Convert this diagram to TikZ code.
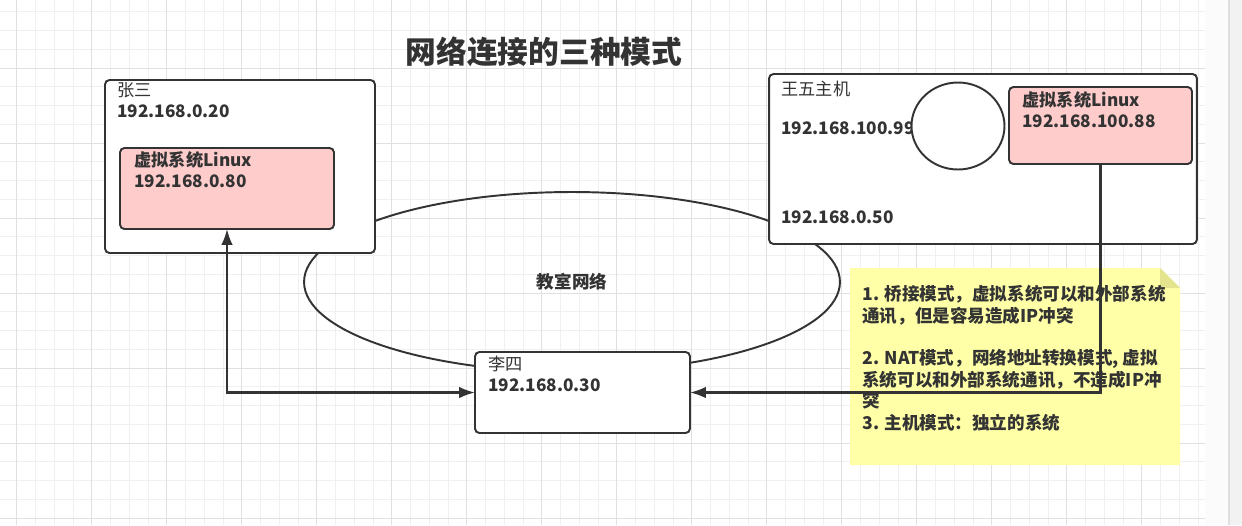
\documentclass[tikz,border=0pt]{standalone}
\usepackage{fontspec}
\setmainfont{Noto Sans CJK SC}
\usetikzlibrary{arrows.meta, shapes.geometric, positioning}

\definecolor{ink}{HTML}{333333}
\definecolor{vmpink}{HTML}{FFCCCC}
\definecolor{notefill}{HTML}{FFFFA8}
\definecolor{notefold}{HTML}{E4E48E}
\definecolor{gridminor}{HTML}{F0F0F0}
\definecolor{gridmajor}{HTML}{E0E0E0}

\tikzset{
  box/.style={draw=ink, line width=1.1pt, rounded corners=2.5pt, fill=white, inner sep=0pt, outer sep=0pt},
  vmbox/.style={box, fill=vmpink},
  txt/.style={anchor=north west, align=left, inner sep=0pt, text=ink, font=\fontsize{9.8}{11.9}\selectfont\bfseries},
  wire/.style={draw=ink, line width=1.2pt, >={Latex[length=9pt,width=6.5pt]}}
}

\begin{document}
\begin{tikzpicture}[x=0.02cm, y=-0.02cm]
  \useasboundingbox (0,0) rectangle (1242,525);
  \fill[white] (0,0) rectangle (1242,525);

  \begin{scope}[line width=0.5pt]
    \foreach \k in {0,...,64}
    {
      \draw[gridminor] ({-2.05+18.75*\k},0) -- ++(0,525);
    }
    \foreach \k in {0,...,27}
    {
      \draw[gridminor] (0,{11.75+18.75*\k}) -- ++(1205,0);
    }
    \foreach \k in {0,...,15}
    {
      \draw[gridmajor] ({16.7+75*\k},0) -- ++(0,525);
    }
    \foreach \k in {0,...,6}
    {
      \draw[gridmajor] (0,{68+75*\k}) -- ++(1205,0);
    }
  \end{scope}
  \fill[white!97!gray] (1205,0) rectangle (1228,525);
  \fill[white!90!gray] (1228,0) rectangle (1242,525);
  \draw[white!75!gray, line width=1pt] (1229,0) -- (1229,525);

  \node[font=\fontsize{17.5}{20}\selectfont\bfseries, text=ink, inner sep=0pt] (title) at (544,52) {网络连接的三种模式};

  \node[ellipse, draw=ink, line width=1.1pt, inner sep=0pt, minimum width=10.72cm, minimum height=3.6cm,
        font=\fontsize{10}{12}\selectfont\bfseries, text=ink] (net) at (572,282) {教室网络};

  \node[box, minimum width=5.4cm, minimum height=3.46cm] (zs) at (240,166.5) {};
  \node[txt] (zslbl) at (117,82) {{\mdseries 张三}\\192.168.0.20};
  \node[vmbox, minimum width=4.28cm, minimum height=1.62cm] (zsvm) at (227,188.5) {};
  \node[txt] (zsvmlbl) at (134,151) {虚拟系统Linux\\192.168.0.80};

  \node[box, minimum width=8.56cm, minimum height=3.4cm] (ww) at (983,159) {};
  \node[txt, font=\fontsize{9.8}{11.9}\selectfont] (wwlbl) at (781,81) {王五主机};
  \node[txt] (wwip) at (781,121) {192.168.100.99};
  \node[txt] (wwlan) at (781,210) {192.168.0.50};
  \node[ellipse, draw=ink, line width=1.1pt, fill=white, minimum width=1.86cm, minimum height=1.74cm] (nic) at (958,126) {};
  \node[vmbox, minimum width=3.66cm, minimum height=1.54cm] (wwvm) at (1100.5,125.5) {};
  \node[txt] (wwvmlbl) at (1022,91) {虚拟系统Linux\\192.168.100.88};

  \node[box, minimum width=4.3cm, minimum height=1.62cm] (ls) at (582.5,392.5) {};
  \node[txt] (lslbl) at (488,356) {{\mdseries 李四}\\192.168.0.30};

  \fill[notefill] (850,268) -- (1160,268) -- (1180,288) -- (1180,465) -- (850,465) -- cycle;
  \fill[notefold] (1160,268) -- (1160,288) -- (1180,288) -- cycle;
  \node[txt, font=\fontsize{10}{12.2}\selectfont\bfseries] (note) at (862,285)
    {1. 桥接模式，虚拟系统可以和外部系统\\通讯，但是容易造成IP冲突\\[12.2pt]
     2. NAT模式，网络地址转换模式, 虚拟\\系统可以和外部系统通讯，不造成IP冲\\突\\
     3. 主机模式：独立的系统};

  \draw[wire, <->] (zsvm.south) |- (ls.west);
  \draw[wire, ->] (wwvm.south) |- (ls.east);
\end{tikzpicture}
\end{document}
